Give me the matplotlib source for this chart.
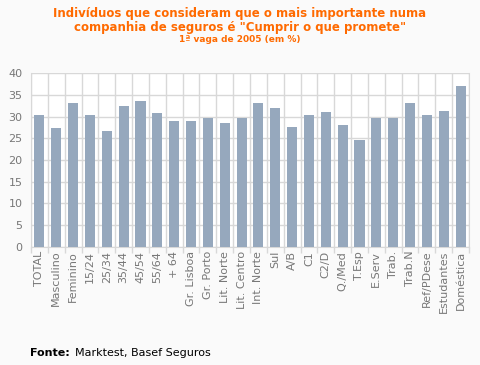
import matplotlib
matplotlib.use("Agg")
import matplotlib.pyplot as plt
import numpy as np

categories = ["TOTAL", "Masculino", "Feminino", "15/24", "25/34", "35/44", "45/54", "55/64",
              "+ 64", "Gr. Lisboa", "Gr. Porto", "Lit. Norte", "Lit. Centro", "Int. Norte",
              "Sul", "A/B", "C1", "C2/D", "Q./Med", "T.Esp", "E.Serv", "Trab.", "Trab.N",
              "Ref/PDese", "Estudantes", "Doméstica"]
values = [30.4, 27.4, 33.2, 30.4, 26.7, 32.5, 33.6, 30.8, 29.0, 29.0, 29.7, 28.5, 29.7,
          33.2, 32.0, 27.6, 30.4, 31.1, 28.1, 24.6, 29.7, 29.7, 33.2, 30.4, 31.3, 37.1]
yticks = [0, 5, 10, 15, 20, 25, 30, 35, 40]

fig = plt.figure(figsize=(4.8, 3.65), dpi=100, facecolor="#fafafa")
ax = fig.add_axes([31/480, 1-246.7/365, (469-31)/480, (246.7-73.3)/365])
ax.set_facecolor("white")
x = np.arange(len(categories))
ax.bar(x, values, width=0.6, color="#96a8bd", zorder=3)
ax.set_xlim(-0.5, len(categories)-0.5)
ax.set_ylim(0, 40)
ax.set_yticks(yticks)
ax.set_yticklabels([str(t) for t in yticks], fontsize=8, color="#777777")
ax.tick_params(axis="y", length=0, pad=6)
ax.set_xticks(x)
ax.set_xticklabels(categories, rotation=90, fontsize=8, color="#777777")
ax.tick_params(axis="x", length=0, pad=3)
ax.set_xticks(np.arange(-0.5, len(categories), 1), minor=True)
ax.tick_params(axis="x", which="minor", length=4, color="#d8d8d8", width=1)
ax.grid(True, which="major", axis="y", color="#d8d8d8", linewidth=1, zorder=0)
ax.grid(True, which="minor", axis="x", color="#d8d8d8", linewidth=1, zorder=0)
for s in ax.spines.values():
    s.set_color("#d8d8d8")
ax.spines["top"].set_visible(False)

fig.text(0.5, 1-13/365, "Indivíduos que consideram que o mais importante numa", ha="center", va="center",
         fontsize=8.5, fontweight="bold", color="#ff6a00")
fig.text(0.5, 1-27/365, "companhia de seguros é \"Cumprir o que promete\"", ha="center", va="center",
         fontsize=8.5, fontweight="bold", color="#ff6a00")
fig.text(0.5, 1-40/365, "1ª vaga de 2005 (em %)", ha="center", va="center",
         fontsize=6.5, fontweight="bold", color="#ff6a00")
fig.text(30/480, 1-353/365, "Fonte:", ha="left", va="center",
         fontsize=8, fontweight="bold", color="black")
fig.text(75/480, 1-353/365, "Marktest, Basef Seguros", ha="left", va="center",
         fontsize=8, color="black")
fig.savefig("out.png", dpi=100, facecolor=fig.get_facecolor())
